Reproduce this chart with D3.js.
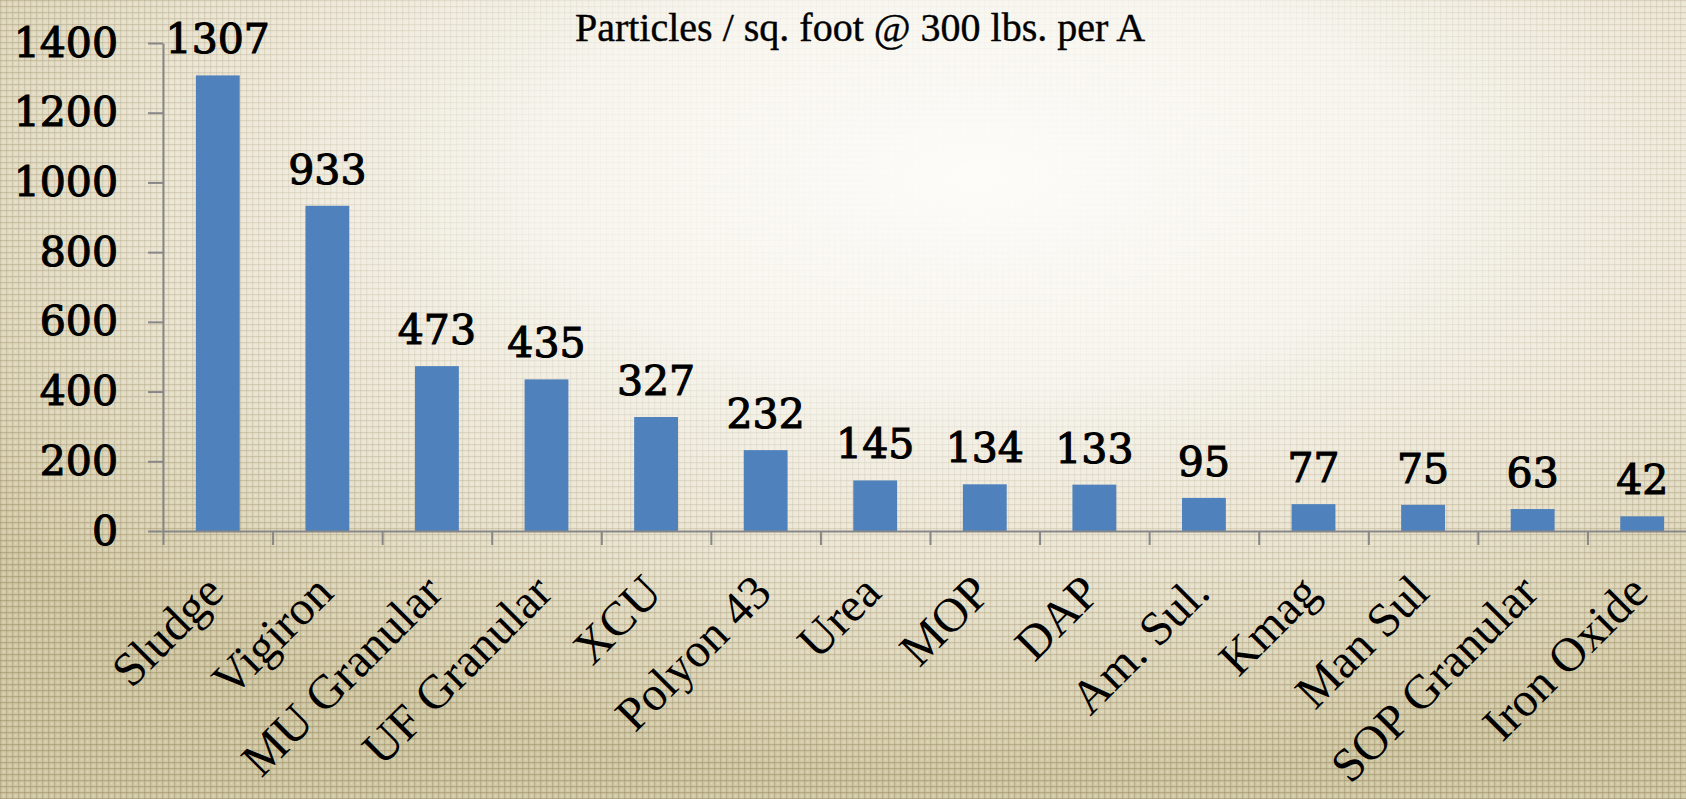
<!DOCTYPE html>
<html>
<head>
<meta charset="utf-8">
<script src="https://cdn.jsdelivr.net/npm/d3@7"></script>
<style>
  body { margin: 0; overflow: hidden; }
  svg { display: block; }
</style>
</head>
<body>
<svg id="chart" width="1686" height="799"></svg>
<script>
// chart data
const categories = ["Sludge", "Vigiron", "MU Granular", "UF Granular", "XCU", "Polyon 43",
  "Urea", "MOP", "DAP", "Am. Sul.", "Kmag", "Man Sul", "SOP Granular", "Iron Oxide"];
const particles = [1307, 933, 473, 435, 327, 232, 145, 134, 133, 95, 77, 75, 63, 42];
const yTicks = [0, 200, 400, 600, 800, 1000, 1200, 1400];
const chartTitle = "Particles / sq. foot @ 300 lbs. per A";

const width = 1686, height = 799;
const barBlue = "#4f81bd";
const axisGrey = "#878787";

const svg = d3.select("#chart");
const defs = svg.append("defs");

// linen-ish background: light centre, beige edges
const bg = defs.append("radialGradient")
    .attr("id", "bgGrad")
    .attr("cx", "58%").attr("cy", "22%").attr("r", "75%");
[["0%", "#fdfcf9"], ["35%", "#f7f5ee"], ["65%", "#ebe5d3"], ["90%", "#d9d1b2"], ["100%", "#d0c7a4"]]
  .forEach(([o, c]) => bg.append("stop").attr("offset", o).attr("stop-color", c));

const maskGrad = defs.append("radialGradient")
    .attr("id", "maskGrad")
    .attr("cx", "58%").attr("cy", "22%").attr("r", "75%");
[["0%", "#000"], ["35%", "#222"], ["70%", "#aaa"], ["100%", "#fff"]]
  .forEach(([o, c]) => maskGrad.append("stop").attr("offset", o).attr("stop-color", c));

defs.append("mask").attr("id", "texMask")
  .append("rect").attr("width", width).attr("height", height).attr("fill", "url(#maskGrad)");

const pat = defs.append("pattern")
    .attr("id", "linen")
    .attr("width", 6).attr("height", 6)
    .attr("patternUnits", "userSpaceOnUse");
pat.append("rect").attr("x", 0).attr("y", 0).attr("width", 6).attr("height", 1.2)
    .attr("fill", "rgba(110,95,55,0.28)");
pat.append("rect").attr("x", 0).attr("y", 0).attr("width", 1.2).attr("height", 6)
    .attr("fill", "rgba(110,95,55,0.22)");
pat.append("rect").attr("x", 3).attr("y", 3).attr("width", 1.5).attr("height", 1.5)
    .attr("fill", "rgba(255,255,245,0.35)");

svg.append("rect").attr("width", width).attr("height", height).attr("fill", "url(#bgGrad)");
svg.append("rect").attr("width", width).attr("height", height)
    .attr("fill", "url(#linen)").attr("mask", "url(#texMask)");

// scales
const x = d3.scaleBand()
    .domain(categories)
    .range([163, 1697])
    .paddingInner(0.6)
    .paddingOuter(0.3);

const xEdge = d3.scaleLinear()
    .domain([0, categories.length])
    .range([163, 1697]);

const y = d3.scaleLinear()
    .domain([0, 1400])
    .range([531, 43]);

// title
svg.append("text")
    .attr("x", 860)
    .attr("y", 41)
    .attr("text-anchor", "middle")
    .attr("font-family", "'Liberation Serif', serif")
    .attr("font-size", 40)
    .attr("fill", "#000")
    .attr("stroke", "#000")
    .attr("stroke-width", 0.4)
    .text(chartTitle);

// bars
svg.append("g")
  .selectAll("rect")
  .data(particles)
  .join("rect")
    .attr("x", (d, i) => x(categories[i]))
    .attr("y", d => y(d))
    .attr("width", x.bandwidth())
    .attr("height", d => y(0) - y(d))
    .attr("fill", barBlue);

// y axis
const yAxis = svg.append("g")
    .attr("transform", `translate(${x.range()[0]},0)`)
    .call(d3.axisLeft(y).tickValues(yTicks).tickFormat(d3.format("d"))
      .tickSize(15).tickSizeOuter(0).tickPadding(30));
yAxis.select(".domain").attr("stroke", axisGrey).attr("stroke-width", 2);
yAxis.selectAll(".tick line").attr("stroke", axisGrey).attr("stroke-width", 2);
yAxis.selectAll(".tick text")
    .attr("font-family", "'DejaVu Serif', serif")
    .attr("font-size", 41)
    .attr("fill", "#000")
    .attr("stroke", "#000")
    .attr("stroke-width", 1.1);

// x axis: ticks on category boundaries
const xAxis = svg.append("g")
    .attr("transform", `translate(0,${y(0)})`)
    .call(d3.axisBottom(xEdge).tickValues(d3.range(categories.length + 1))
      .tickSize(14).tickSizeOuter(0).tickFormat(""));
xAxis.select(".domain").attr("stroke", axisGrey).attr("stroke-width", 2);
xAxis.selectAll(".tick line").attr("stroke", axisGrey).attr("stroke-width", 2);

// rotated category labels
svg.append("g")
  .selectAll("text")
  .data(categories)
  .join("text")
    .attr("transform", d => `translate(${x(d) + x.bandwidth() / 2 + 8},${y(0) + 64}) rotate(-45)`)
    .attr("text-anchor", "end")
    .attr("font-family", "'Liberation Serif', serif")
    .attr("font-size", 48)
    .attr("fill", "#000")
    .text(d => d);

// value labels
svg.append("g")
  .selectAll("text")
  .data(particles)
  .join("text")
    .attr("x", (d, i) => x(categories[i]) + x.bandwidth() / 2)
    .attr("y", d => y(d) - 22)
    .attr("text-anchor", "middle")
    .attr("font-family", "'DejaVu Serif', serif")
    .attr("font-size", 41)
    .attr("fill", "#000")
    .attr("stroke", "#000")
    .attr("stroke-width", 1.1)
    .text(d => d);
</script>
</body>
</html>
